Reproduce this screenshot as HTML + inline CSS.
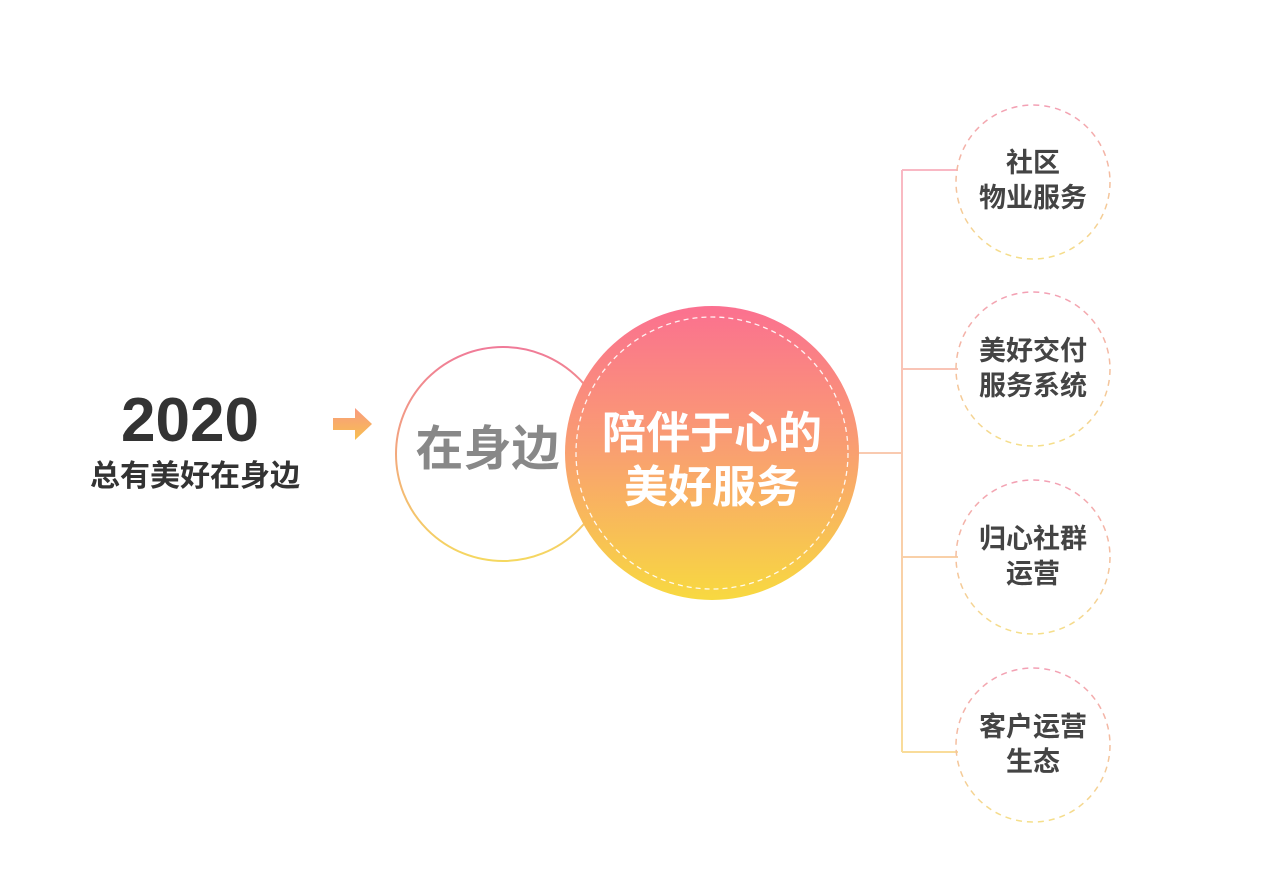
<!DOCTYPE html>
<html><head><meta charset="utf-8"><style>
body{margin:0;background:#fff;width:1269px;height:891px;overflow:hidden;position:relative;font-family:"Liberation Sans","Noto Sans CJK SC",sans-serif}
.t{position:absolute;text-align:center;white-space:nowrap}
</style></head><body>
<svg width="1269" height="891" style="position:absolute;left:0;top:0">
<defs>
<linearGradient id="g" x1="0" y1="0" x2="0" y2="1"><stop offset="0" stop-color="#fb7090"/><stop offset="0.5" stop-color="#f9a070"/><stop offset="1" stop-color="#f8d940"/></linearGradient>
<linearGradient id="gl" x1="0" y1="0" x2="0" y2="1"><stop offset="0" stop-color="#f07a98"/><stop offset="1" stop-color="#f5d860"/></linearGradient>
<linearGradient id="gv" x1="0" y1="0" x2="0" y2="1"><stop offset="0" stop-color="#f9b8c4"/><stop offset="1" stop-color="#f9dc9a"/></linearGradient>
<linearGradient id="gc" x1="0" y1="0" x2="0" y2="1"><stop offset="0" stop-color="#f3a0b4"/><stop offset="1" stop-color="#f5df8a"/></linearGradient>
<linearGradient id="ga" x1="0" y1="0" x2="0" y2="1"><stop offset="0" stop-color="#f99a80"/><stop offset="1" stop-color="#f7c050"/></linearGradient>
</defs>
<path d="M333 418h22v-10l17 16-17 16v-10h-22z" fill="url(#ga)"/>
<circle cx="503" cy="454" r="107" fill="#fff" stroke="url(#gl)" stroke-width="2"/>
<circle cx="712" cy="453" r="147" fill="url(#g)"/>
<circle cx="712" cy="453" r="136" fill="none" stroke="#fff" stroke-width="1.3" stroke-dasharray="5 4" opacity="0.9"/>
<path d="M859 453H902M902 170V752M902 170H958M902 369H958M902 557H958M902 752H958" fill="none" stroke="url(#gv)" stroke-width="2"/>
<g fill="none" stroke="url(#gc)" stroke-width="1.5" stroke-dasharray="6 5">
<circle cx="1033" cy="182" r="77"/><circle cx="1033" cy="369" r="77"/><circle cx="1033" cy="557" r="77"/><circle cx="1033" cy="745" r="77"/>
</g>
</svg>
<div class="t" style="left:90px;width:200px;top:386px;font-size:62px;font-weight:bold;color:#333;line-height:70px">2020</div>
<div class="t" style="left:60px;width:270px;top:459px;font-size:30px;font-weight:bold;color:#333;line-height:36px">总有美好在身边</div>
<div class="t" style="left:395px;width:185px;top:420px;font-size:48px;color:#888;line-height:60px;font-weight:bold">在身边</div>
<div class="t" style="left:572px;width:280px;top:407px;font-size:44px;color:#fff;line-height:54px;font-weight:bold">陪伴于心的<br>美好服务</div>
<div class="t" style="left:953px;width:160px;top:146px;font-size:27px;color:#444;line-height:35px;font-weight:bold">社区<br>物业服务</div>
<div class="t" style="left:953px;width:160px;top:334px;font-size:27px;color:#444;line-height:35px;font-weight:bold">美好交付<br>服务系统</div>
<div class="t" style="left:953px;width:160px;top:522px;font-size:27px;color:#444;line-height:35px;font-weight:bold">归心社群<br>运营</div>
<div class="t" style="left:953px;width:160px;top:710px;font-size:27px;color:#444;line-height:35px;font-weight:bold">客户运营<br>生态</div>
</body></html>
